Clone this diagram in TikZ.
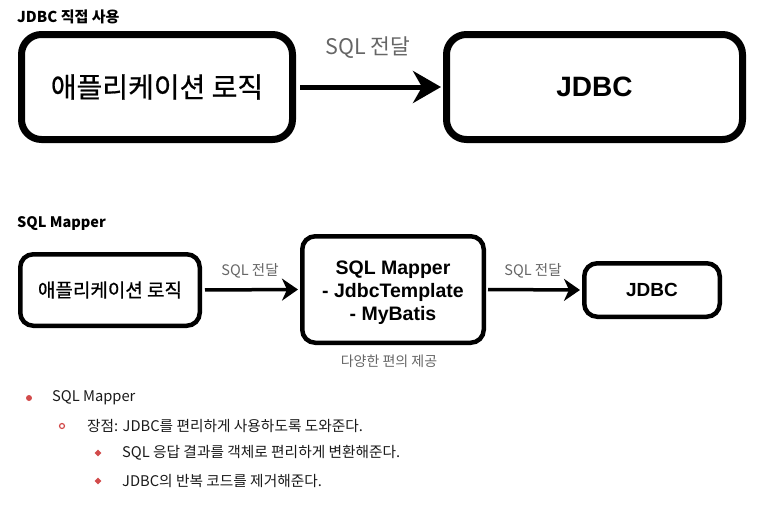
\documentclass[tikz,border=0pt]{standalone}
\usepackage{fontspec}
\setmainfont{Noto Sans CJK KR}
\newfontfamily\cjkmed[FakeBold=0.7]{Noto Sans CJK KR}
\newfontfamily\helv{Liberation Sans}
\usetikzlibrary{arrows.meta,shapes.geometric}
\definecolor{labelgray}{HTML}{666666}
\definecolor{bulletred}{HTML}{D24B4B}
\definecolor{ink}{HTML}{1A1A1A}
\tikzset{
  bigbox/.style={draw=black, line width=7pt, rounded corners=20pt, fill=white, align=center, inner sep=0pt},
  smallbox/.style={draw=black, line width=4.5pt, rounded corners=13pt, fill=white, align=center, inner sep=0pt},
  bigarrow/.style={line width=5pt, -{Stealth[length=28pt,width=32pt,inset=9pt]}},
  smallarrow/.style={line width=3.5pt, -{Stealth[length=16pt,width=22pt,inset=5pt]}},
  edgelabel/.style={text=labelgray, inner sep=0pt},
  heading/.style={anchor=west, inner sep=0pt, font=\bfseries\fontsize{15}{17}\selectfont},
  bullettext/.style={anchor=west, inner sep=0pt, text=ink, font=\fontsize{14.7}{17}\selectfont},
}
\begin{document}
\begin{tikzpicture}[x=1pt,y=-1pt]
\useasboundingbox (0,0) rectangle (761,525);

% Section 1
\node[heading] (h1) at (17,17) {JDBC 직접 사용};
\node[bigbox, minimum width=271pt, minimum height=105pt,
      font=\cjkmed\fontsize{28}{32}\selectfont] (app1) at (157,87) {애플리케이션 로직};
\node[bigbox, minimum width=296pt, minimum height=105pt,
      font=\helv\bfseries\fontsize{28}{32}\selectfont] (jdbc1) at (594.5,87) {JDBC};
\draw[bigarrow, shorten <=4pt, shorten >=2pt] (app1.east) -- (jdbc1.west);
\node[edgelabel, font=\fontsize{21.5}{25}\selectfont] (l1) at (368,48) {SQL 전달};

% Section 2
\node[heading, font=\bfseries\fontsize{14.5}{17}\selectfont] (h2) at (17,224) {SQL Mapper};
\node[smallbox, minimum width=179.5pt, minimum height=71.5pt,
      font=\cjkmed\fontsize{19}{22}\selectfont] (app2) at (110,290) {애플리케이션 로직};
\node[smallbox, minimum width=181.5pt, minimum height=106.5pt,
      font=\helv\bfseries\fontsize{19.5}{23}\selectfont] (mapper) at (393,289.5)
      {\raisebox{-3pt}[\height][\depth]{\parbox{170pt}{\centering SQL Mapper\\- JdbcTemplate\\- MyBatis}}};
\node[smallbox, minimum width=135.5pt, minimum height=53.5pt,
      font=\helv\bfseries\fontsize{19}{23}\selectfont] (jdbc2) at (652,290) {JDBC};
\draw[smallarrow, shorten <=3pt, shorten >=2pt] (app2.east) -- (mapper.west);
\draw[smallarrow, shorten <=2pt, shorten >=2pt] (mapper.east) -- (jdbc2.west);
\node[edgelabel, font=\fontsize{14.5}{17}\selectfont] (l2) at (250,271) {SQL 전달};
\node[edgelabel, font=\fontsize{14.5}{17}\selectfont] (l3) at (533,271) {SQL 전달};
\node[edgelabel, font=\fontsize{14}{16}\selectfont] (conv) at (389,361) {다양한 편의 제공};

% Bullets
\fill[bulletred] (29,398) circle (3pt);
\node[bullettext] (b1) at (52,398) {SQL Mapper};
\draw[bulletred, line width=1.2pt] (62,426) circle (2.5pt);
\node[bullettext] (b2) at (87,426) {장점: JDBC를 편리하게 사용하도록 도와준다.};
\node[diamond, fill=bulletred, inner sep=0pt, minimum size=7pt] (d1) at (98,453) {};
\node[bullettext] (b3) at (122,453) {SQL 응답 결과를 객체로 편리하게 변환해준다.};
\node[diamond, fill=bulletred, inner sep=0pt, minimum size=7pt] (d2) at (98,481) {};
\node[bullettext] (b4) at (122,481) {JDBC의 반복 코드를 제거해준다.};
\end{tikzpicture}
\end{document}
